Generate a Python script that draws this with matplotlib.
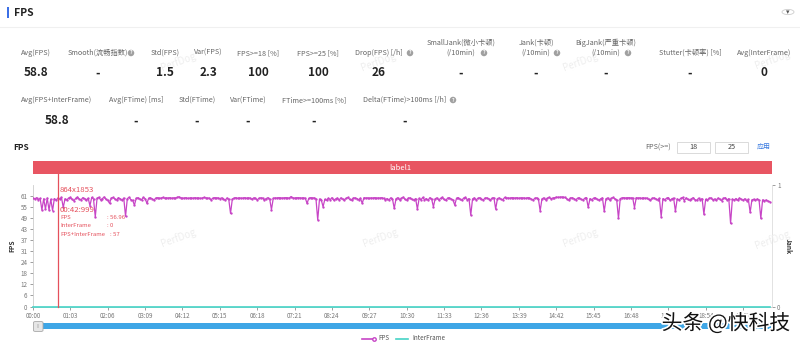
import numpy as np
import matplotlib
matplotlib.use('Agg')
import matplotlib.pyplot as plt
from matplotlib.patches import Rectangle, FancyBboxPatch, Circle
import matplotlib.patheffects as pe

plt.rcParams['font.family'] = ['Noto Sans CJK SC', 'DejaVu Sans']

W, H = 800, 346

# FPS samples, one every 3 seconds
step = 3
fps = [59.8, 59.4, 60.1, 59.0, 59.7, 53.3, 59.5, 53.8, 59.9, 53.3, 59.2, 53.0, 59.6, 58.7, 59.9,
       59.3, 60.2, 54.7, 59.5, 58.8, 59.9, 60.3, 59.1, 58.5, 59.7, 60.4, 59.3, 58.9, 60.1, 59.6,
       58.7, 59.8, 55.7, 60.2, 59.4, 49.5, 59.8, 60.3, 58.9, 59.6, 60.5, 59.2, 58.6, 57.0, 59.9,
       60.2, 59.4, 58.8, 60.1, 59.5, 58.7, 59.9, 49.8, 59.6, 60.3, 59.0, 58.6, 56.0, 59.7, 60.1,
       59.3, 58.9, 60.2, 59.6, 57.0, 59.8, 60.0, 59.4, 58.8, 59.9, 60.1, 59.7, 59.9, 60.2, 59.8,
       60.0, 59.9, 60.1, 59.8, 60.0, 59.9, 60.2, 60.6, 60.0, 59.8, 59.9, 60.1, 59.7, 59.9, 60.0,
       59.8, 60.1, 59.9, 60.0, 59.7, 59.9, 60.2, 60.0, 59.8, 59.9, 58.9, 59.8, 60.1, 59.9, 60.0,
       59.6, 60.0, 59.4, 58.7, 59.9, 59.2, 51.4, 59.3, 59.9, 60.1, 59.7, 60.0, 59.8, 59.9, 60.1,
       59.8, 60.0, 59.9, 59.1, 60.0, 59.7, 58.9, 59.8, 60.0, 59.9, 58.8, 59.6, 60.1, 59.4, 53.5,
       59.7, 60.0, 59.9, 60.1, 60.0, 59.9, 60.0, 60.1, 60.0, 59.9, 60.7, 60.0, 59.9, 60.0, 60.1,
       60.0, 59.9, 60.0, 59.8, 57.0, 59.7, 60.1, 59.9, 60.0, 59.6, 47.8, 59.4, 58.8, 55.1, 59.2,
       58.6, 59.8, 59.0, 60.1, 58.7, 59.4, 59.9, 58.8, 60.0, 59.3, 58.9, 59.8, 60.2, 59.1, 58.7,
       59.9, 60.0, 59.6, 58.9, 59.8, 57.0, 60.1, 59.9, 60.0, 59.7, 60.0, 59.9, 60.1, 59.8, 60.0,
       59.9, 60.1, 59.7, 59.0, 59.6, 58.8, 60.0, 59.4, 54.2, 59.5, 60.1, 58.9, 59.7, 60.4, 59.2,
       58.7, 59.9, 60.0, 59.1, 58.8, 59.6, 53.8, 59.7, 58.9, 60.2, 59.0, 59.6, 58.7, 60.1, 59.4,
       55.1, 59.5, 60.0, 58.8, 59.7, 60.3, 59.1, 58.6, 59.9, 60.0, 59.3, 58.9, 56.0, 59.8, 60.1,
       59.2, 58.7, 59.9, 60.2, 59.0, 59.6, 50.5, 59.4, 60.0, 58.9, 59.7, 60.1, 59.3, 58.8, 59.9,
       60.0, 59.5, 58.7, 59.8, 60.1, 53.8, 59.6, 60.0, 59.2, 58.9, 60.2, 59.9, 60.0, 59.8, 60.1,
       60.0, 59.9, 60.1, 59.8, 60.0, 59.9, 60.0, 59.7, 60.1, 59.9, 59.3, 58.8, 59.8, 60.0, 59.5,
       52.8, 59.4, 60.0, 58.9, 59.7, 60.3, 59.5, 59.9, 60.0, 60.4, 60.3, 60.4, 60.5, 60.3, 60.2,
       59.4, 58.7, 59.9, 60.1, 59.6, 58.9, 59.8, 60.0, 59.2, 58.8, 59.7, 60.1, 54.8, 59.6, 58.9,
       59.8, 60.0, 59.2, 58.7, 59.5, 60.0, 52.6, 59.5, 60.0, 58.8, 59.7, 60.2, 59.4, 59.0, 48.7,
       59.6, 60.0, 60.1, 59.9, 60.0, 60.1, 59.9, 60.0, 54.6, 60.1, 59.9, 60.0, 59.7, 60.0, 59.8,
       59.9, 59.1, 58.7, 59.8, 60.0, 59.4, 58.9, 59.7, 49.6, 59.6, 58.9, 59.8, 60.1, 58.6, 59.5,
       59.9, 52.6, 59.4, 58.8, 59.7, 60.2, 58.5, 60.0, 59.1, 58.7, 59.5, 60.1, 59.0, 58.6, 59.8,
       58.9, 59.6, 51.0, 59.2, 58.6, 59.8, 60.0, 58.9, 59.4, 58.7, 59.9, 59.2, 58.5, 59.7, 60.1,
       58.8, 59.6, 45.9, 59.3, 58.8, 59.6, 58.6, 59.9, 59.2, 58.7, 59.5, 58.4, 59.1, 52.0, 58.9,
       59.2, 58.6, 59.4, 58.8, 48.7, 58.9, 58.4, 58.8, 58.2, 57.9]
interframe = [0] * len(fps)
t = np.arange(len(fps)) * step

x_tick_sec = [0, 63, 126, 189, 252, 315, 378, 441, 504, 567,
              630, 693, 756, 819, 882, 945, 1008, 1071, 1134, 1197]
x_tick_labels = ['00:00', '01:03', '02:06', '03:09', '04:12', '05:15', '06:18',
                 '07:21', '08:24', '09:27', '10:30', '11:33', '12:36', '13:39',
                 '14:42', '15:45', '16:48', '17:51', '18:54', '19:57']
y_tick_labels = ['0', '6', '12', '18', '24', '31', '37', '43', '49', '55', '61']
y_ticks = np.arange(len(y_tick_labels)) * 6.1

row1_labels = ['Avg(FPS)', 'Smooth(流畅指数)', 'Std(FPS)', 'Var(FPS)', 'FPS>=18 [%]',
               'FPS>=25 [%]', 'Drop(FPS) [/h]', 'SmallJank(微小卡顿)\n(/10min)',
               'Jank(卡顿)\n(/10min)', 'BigJank(严重卡顿)\n(/10min)',
               'Stutter(卡顿率) [%]', 'Avg(InterFrame)']
row1_values = ['58.8', '-', '1.5', '2.3', '100', '100', '26', '-', '-', '-', '-', '0']
row2_labels = ['Avg(FPS+InterFrame)', 'Avg(FTime) [ms]', 'Std(FTime)', 'Var(FTime)',
               'FTime>=100ms [%]', 'Delta(FTime)>100ms [/h]']
row2_values = ['58.8', '-', '-', '-', '-', '-']

cursor_sec = 42
tooltip = ['864x1853', '00:42:999']
tooltip_rows = [('FPS', ': 56.96'), ('InterFrame', ': 0'), ('FPS+InterFrame', ': 57')]

# layout (pixels)
row1_x = [36, 98, 165, 208, 258, 318, 379, 461, 536, 606, 690, 764]
row1_help = [None, 131, None, None, None, None, 410, 484, 557, 628, None, None]
row2_x = [57, 136, 197, 248, 314, 405]
row2_help = [None, None, None, None, None, 453]

c_fps = '#c745c6'
c_inter = '#45d3c6'
c_red = '#e5505c'
c_lab = '#666666'


def fx(x):
    return x / W


def fy(y):
    return 1 - y / H


fig = plt.figure(figsize=(W / 100, H / 100), dpi=100)
fig.patch.set_facecolor('white')

# header
fig.add_artist(Rectangle((fx(7), fy(18)), 2 / W, 11 / H, transform=fig.transFigure,
                         color='#3b6fe6', lw=0))
fig.text(fx(14), fy(12.5), 'FPS', fontsize=7.5, weight='bold', color='#222', va='center')
fig.add_artist(plt.Line2D([0, 1], [fy(27), fy(27)], transform=fig.transFigure,
                          color='#f0f0f0', lw=0.8))
fig.add_artist(Circle((fx(788), fy(12)), 6 / W, transform=fig.transFigure,
                      fc='white', ec='#cccccc', lw=0.6))
fig.text(fx(788), fy(12.5), '▾', fontsize=5, color='#555', ha='center', va='center',
         family='DejaVu Sans')

# PerfDog watermarks
for wx, wy in [(178, 62), (378, 62), (580, 62), (772, 60),
               (178, 238), (380, 238), (580, 238), (772, 240)]:
    fig.text(fx(wx), fy(wy), 'PerfDog', fontsize=7, color='#eeeeee', rotation=20,
             ha='center', va='center', zorder=0)


def help_icon(x, y):
    fig.text(fx(x), fy(y), '?', fontsize=3.6, color='white', weight='bold',
             ha='center', va='center',
             bbox=dict(boxstyle='circle,pad=0.15', fc='#a0a0a0', ec='none'))


def label(x, text, base_y):
    lines = text.split('\n')
    for k, ln in enumerate(reversed(lines)):
        fig.text(fx(x), fy(base_y - 10 * k), ln, fontsize=5.2, color=c_lab,
                 ha='center', va='center')


for x, lab, val, hx in zip(row1_x, row1_labels, row1_values, row1_help):
    label(x, lab, 53)
    fig.text(fx(x), fy(73), val, fontsize=8.5, weight='bold', color='#222',
             ha='center', va='center')
    if hx is not None:
        help_icon(hx, 53)

for x, lab, val, hx in zip(row2_x, row2_labels, row2_values, row2_help):
    label(x, lab, 100)
    fig.text(fx(x), fy(121), val, fontsize=8.5, weight='bold', color='#222',
             ha='center', va='center')
    if hx is not None:
        help_icon(hx, 100)

# chart header
fig.text(fx(13), fy(148), 'FPS', fontsize=6, weight='bold', color='#222', va='center')
fig.text(fx(645), fy(147.5), 'FPS(>=)', fontsize=5.2, color=c_lab, va='center')
for bx0, bx1, txt in [(677, 710, '18'), (715, 748, '25')]:
    fig.add_artist(Rectangle((fx(bx0), fy(153)), (bx1 - bx0) / W, 11 / H,
                             transform=fig.transFigure, fc='white', ec='#d5d5d5', lw=0.6))
    fig.text(fx((bx0 + bx1) / 2), fy(147.5), txt, fontsize=5.2, color='#444',
             ha='center', va='center')
fig.text(fx(764), fy(147.5), '应用', fontsize=5, color='#3a7be0', ha='center', va='center')

# label band
fig.add_artist(Rectangle((fx(33), fy(174)), (771.5 - 33) / W, 13.3 / H,
                         transform=fig.transFigure, color='#e85562', lw=0))
fig.text(fx(400), fy(167.5), 'label1', fontsize=5.5, color='white', ha='center', va='center')

# main plot
ax = fig.add_axes([fx(33), fy(306.5), (771.5 - 33) / W, (306.5 - 185) / H])
ax.plot(t, fps, color=c_fps, lw=0.9, marker='o', ms=1.7, mew=0, zorder=3)
ax.plot(t, interframe, color=c_inter, lw=1.2, zorder=4, clip_on=False)
ax.set_xlim(0, 1245)
ax.set_ylim(0, 67.1)
ax.set_yticks(y_ticks)
ax.set_yticklabels(y_tick_labels)
ax.set_xticks(x_tick_sec)
ax.set_xticklabels(x_tick_labels)
ax.tick_params(axis='both', labelsize=4.5, colors='#777777', length=2, width=0.5, pad=2)
ax.set_ylabel('FPS', fontsize=4.8, weight='bold', color='#333', labelpad=4)
for s in ['top', 'right']:
    ax.spines[s].set_visible(False)
for s in ['left', 'bottom']:
    ax.spines[s].set_color('#cccccc')
    ax.spines[s].set_linewidth(0.6)

ax.axvline(cursor_sec, ymin=0, ymax=(306.5 - 174) / 121.5, color=c_red, lw=0.9,
           clip_on=False, zorder=5)

ax2 = ax.twinx()
ax2.set_ylim(0, 1)
ax2.set_yticks([0, 1])
ax2.tick_params(axis='y', labelsize=4.5, colors='#777777', length=2, width=0.5, pad=2)
ax2.set_ylabel('Jank', fontsize=4.8, weight='bold', color='#333', rotation=270, labelpad=8)
for s in ['top', 'left', 'bottom']:
    ax2.spines[s].set_visible(False)
ax2.spines['right'].set_color('#dddddd')
ax2.spines['right'].set_linewidth(0.6)

# tooltip text
fig.text(fx(60), fy(190), tooltip[0], fontsize=5.6, color=c_red, va='center')
fig.text(fx(60), fy(209.5), tooltip[1], fontsize=5.6, color=c_red, va='center')
for k, (a, b) in enumerate(tooltip_rows):
    yy = 217 + 8.5 * k
    fig.text(fx(60), fy(yy), a, fontsize=4.3, color=c_red, va='center')
    if k < 2:
        fig.text(fx(107), fy(yy), b, fontsize=4.3, color=c_red, va='center')
    else:
        fig.text(fx(110), fy(yy), b, fontsize=4.3, color=c_red, va='center')

# data zoom slider
fig.add_artist(FancyBboxPatch((fx(40), fy(329)), (771 - 40) / W, 6 / H,
                              boxstyle='round,pad=0,rounding_size=0.004',
                              transform=fig.transFigure, fc='#3ea6e6', ec='none'))
fig.add_artist(FancyBboxPatch((fx(33.5), fy(331.5)), 9.5 / W, 10 / H,
                              boxstyle='round,pad=0,rounding_size=0.003',
                              transform=fig.transFigure, fc='#e6e6e6', ec='#a8a8a8', lw=0.6))
fig.text(fx(38.3), fy(326.5), '|||', fontsize=3, color='#888', ha='center', va='center')

# legend
fig.add_artist(plt.Line2D([fx(362), fx(374)], [fy(338.5), fy(338.5)],
                          transform=fig.transFigure, color=c_fps, lw=1.2,
                          marker='o', ms=2.5, markevery=[1], mfc='white'))
fig.text(fx(378), fy(338.5), 'FPS', fontsize=4.5, color='#555', va='center')
fig.add_artist(plt.Line2D([fx(396), fx(408)], [fy(338.5), fy(338.5)],
                          transform=fig.transFigure, color=c_inter, lw=1.2))
fig.text(fx(412), fy(338.5), 'InterFrame', fontsize=4.5, color='#555', va='center')

# site watermark
fig.text(fx(726), fy(323.5), '头条 @快科技', fontsize=15, color='#111', ha='center',
         va='center', path_effects=[pe.withStroke(linewidth=2.5, foreground='white')])

fig.savefig('out.png', dpi=100)
